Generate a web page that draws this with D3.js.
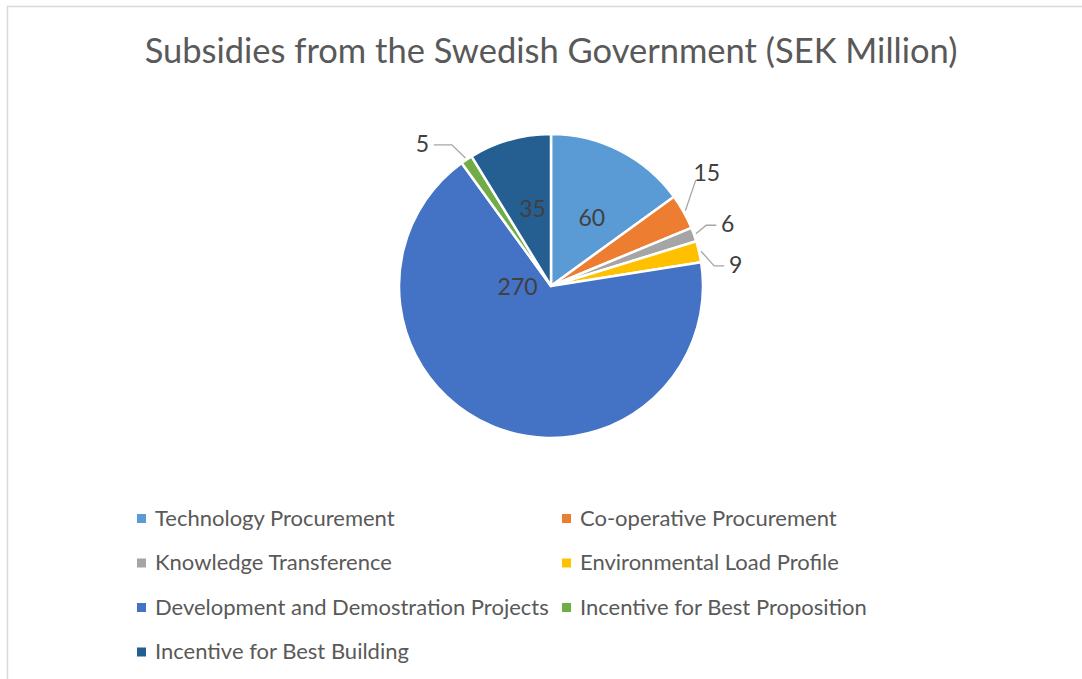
<!DOCTYPE html>
<html>
<head>
<meta charset="utf-8">
<script src="https://cdn.jsdelivr.net/npm/d3@7"></script>
<style>
  body { margin: 0; background: #fff; }
  text { font-family: Lato, "Open Sans", sans-serif; }
</style>
</head>
<body>
<div id="chart"></div>
<script>
// data
var categories = ["Technology Procurement", "Co-operative Procurement", "Knowledge Transference",
                  "Environmental Load Profile", "Development and Demostration Projects",
                  "Incentive for Best Proposition", "Incentive for Best Building"];
var values = [60, 15, 6, 9, 270, 5, 35];
var colors = ["#5B9BD5", "#ED7D31", "#A5A5A5", "#FFC000", "#4472C4", "#70AD47", "#255E91"];
var titleText = "Subsidies from the Swedish Government (SEK Million)";

function draw(){
    var width = 1082, height = 679;
    var cx = 551, cy = 286, radius = 152;

    var svg = d3.select("#chart").append("svg")
                .attr("width", width)
                .attr("height", height);

    // chart area border
    svg.append("rect")
       .attr("x", 7.5).attr("y", 6.5)
       .attr("width", width + 20).attr("height", height + 20)
       .attr("fill", "#fff")
       .attr("stroke", "#d9d9d9")
       .attr("stroke-width", 1.5);

    svg.append("text")
       .attr("x", 551)
       .attr("y", 63)
       .attr("text-anchor", "middle")
       .style("font-size", "34.5px")
       .style("fill", "#595959")
       .text(titleText);

    var rows = categories.map(function(c, i){ return {name: c, value: values[i], color: colors[i]}; });

    var pie = d3.pie().sort(null).value(function(d){ return d.value; });
    var arcs = pie(rows);
    var arc = d3.arc().innerRadius(0).outerRadius(radius);

    var g = svg.append("g").attr("transform", "translate(" + cx + "," + cy + ")");

    g.selectAll("path.slice")
     .data(arcs)
     .enter().append("path")
     .attr("class", "slice")
     .attr("d", arc)
     .attr("fill", function(d){ return d.data.color; })
     .attr("stroke", "#fff")
     .attr("stroke-width", 2.5)
     .attr("stroke-linejoin", "round");

    function polar(a, r){ return [r * Math.sin(a), -r * Math.cos(a)]; }
    function mid(d){ return (d.startAngle + d.endAngle) / 2; }

    var labelSize = "23px";

    // label placement, the way excel laid them out
    var inside = {0: {r: 0.52, da: 0.07}, 6: {r: 0.52, da: 0.04}};
    var outside = {1: {dx: -10, dy: -20, r: 1.25}, 2: {dx: 8, dy: -1, r: 1.18},
                   3: {dx: 7, dy: 20, r: 1.20}, 5: {dx: -29, dy: 7, r: 1.18}};

    arcs.forEach(function(d, i){
        var a = mid(d), p;
        if (inside[i]) {
            p = polar(a + inside[i].da, radius * inside[i].r);
            g.append("text")
             .attr("x", p[0]).attr("y", p[1] + 8)
             .attr("text-anchor", "middle")
             .style("font-size", labelSize).style("fill", "#404040")
             .text(d.data.value);
        } else if (outside[i]) {
            var o = outside[i];
            p = polar(a, radius * o.r);
            var lx = p[0] + o.dx, ly = p[1] + o.dy;
            var right = lx > 0;
            g.append("text")
             .attr("x", lx).attr("y", ly + 8)
             .attr("text-anchor", "middle")
             .style("font-size", labelSize).style("fill", "#404040")
             .text(d.data.value);
            // leader line
            var s = polar(a, radius + 2);
            var tw = String(d.data.value).length * 6.5 + 5;
            var pts;
            if (i == 1) {
                pts = [s, [lx - 11, ly + 7]];
            } else {
                var ex = right ? lx - tw : lx + tw;
                var ey = ly + 1;
                var bx = right ? ex - 10 : ex + 18;
                pts = [s, [bx, ey], [ex, ey]];
            }
            g.append("path")
             .attr("d", d3.line()(pts))
             .attr("fill", "none")
             .attr("stroke", "#a6a6a6")
             .attr("stroke-width", 1.3);
        } else {
            // big slice: label pulled toward the centre
            p = polar(Math.PI * 1.5, radius * 0.22);
            g.append("text")
             .attr("x", p[0]).attr("y", p[1] + 9)
             .attr("text-anchor", "middle")
             .style("font-size", labelSize).style("fill", "#404040")
             .text(d.data.value);
        }
    });

    // legend, two columns
    var colX = [137, 562];
    var rowY = d3.scaleLinear().domain([0, 1]).range([518, 562.5]);
    var legend = svg.append("g").selectAll("g")
                    .data(rows)
                    .enter().append("g")
                    .attr("transform", function(d, i){
                        return "translate(" + colX[i % 2] + "," + rowY(Math.floor(i / 2)) + ")";
                    });
    legend.append("rect")
          .attr("x", 0).attr("y", -4)
          .attr("width", 9).attr("height", 9)
          .attr("fill", function(d){ return d.color; });
    legend.append("text")
          .attr("x", 18).attr("y", 7.5)
          .style("font-size", "22px")
          .style("fill", "#595959")
          .text(function(d){ return d.name; });
}

draw();
</script>
</body>
</html>
